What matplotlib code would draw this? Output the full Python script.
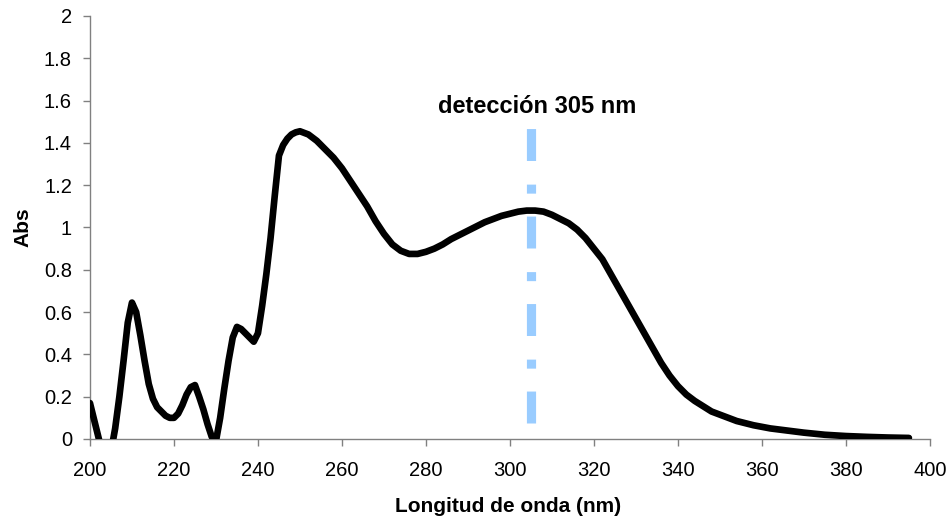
import matplotlib
matplotlib.use("Agg")
import matplotlib.pyplot as plt

plt.rcParams['font.family'] = ['Liberation Sans', 'DejaVu Sans']
plt.rcParams['lines.scale_dashes'] = False

# Absorption spectrum
wavelength = [200, 201, 202, 203, 204, 205, 206, 207, 208, 209, 210, 211, 212, 213,
              214, 215, 216, 217, 218, 219, 220, 221, 222, 223, 224, 225, 226, 227,
              228, 229, 230, 231, 232, 233, 234, 235, 236, 237, 238, 239, 240, 241,
              242, 243, 244, 245, 246, 247, 248, 249, 250, 252, 254, 256, 258, 260,
              262, 264, 266, 268, 270, 272, 274, 276, 278, 280, 282, 284, 286, 288,
              290, 292, 294, 296, 298, 300, 302, 304, 306, 308, 310, 312, 314, 316,
              318, 320, 322, 324, 326, 328, 330, 332, 334, 336, 338, 340, 342, 344,
              346, 348, 350, 354, 358, 362, 366, 370, 375, 380, 385, 390, 395]
absorbance = [0.17, 0.09, 0.01, -0.07, -0.10, -0.06, 0.05, 0.20, 0.37, 0.55, 0.645, 0.60,
              0.49, 0.37, 0.26, 0.19, 0.15, 0.13, 0.11, 0.10, 0.10, 0.12, 0.16, 0.21,
              0.245, 0.255, 0.20, 0.14, 0.07, 0.01, -0.01, 0.10, 0.24, 0.37, 0.48, 0.53,
              0.52, 0.50, 0.48, 0.46, 0.50, 0.63, 0.78, 0.95, 1.15, 1.34, 1.39, 1.42,
              1.44, 1.45, 1.455, 1.44, 1.41, 1.37, 1.33, 1.28, 1.22, 1.16, 1.10, 1.03,
              0.97, 0.92, 0.89, 0.875, 0.875, 0.885, 0.90, 0.92, 0.945, 0.965, 0.985,
              1.005, 1.025, 1.04, 1.055, 1.065, 1.075, 1.08, 1.08, 1.075, 1.06, 1.04,
              1.02, 0.99, 0.95, 0.90, 0.85, 0.78, 0.71, 0.64, 0.57, 0.50, 0.43, 0.36,
              0.30, 0.25, 0.21, 0.18, 0.155, 0.13, 0.115, 0.085, 0.065, 0.05, 0.04,
              0.03, 0.02, 0.014, 0.01, 0.007, 0.005]

# Detection wavelength marker
detection_nm = 305
marker_span = (0.075, 1.475)
marker_label = "detección 305 nm"

x_ticks = [200, 220, 240, 260, 280, 300, 320, 340, 360, 380, 400]
y_ticks = [0, 0.2, 0.4, 0.6, 0.8, 1, 1.2, 1.4, 1.6, 1.8, 2]
y_ticklabels = ["0", "0.2", "0.4", "0.6", "0.8", "1", "1.2", "1.4", "1.6", "1.8", "2"]

fig = plt.figure(figsize=(9.46, 5.21), dpi=100)
ax = fig.add_axes([0.0951, 0.1574, 0.8879, 0.8119])

ax.plot(wavelength, absorbance, color='black', lw=4.8, solid_joinstyle='round',
        solid_capstyle='round', zorder=3)

# long dash / short dash pattern, lengths in points
ax.plot([detection_nm, detection_nm], marker_span, color='#99CCFF', lw=6.6,
        linestyle=(0, (23.0, 16.5, 6.5, 17.0)), dash_capstyle='butt', zorder=2)

ax.text(306.4, 1.54, marker_label, ha='center', va='baseline',
        fontsize=17, fontweight='bold')

ax.set_xlim(200, 400)
ax.set_ylim(0, 2)
ax.set_xticks(x_ticks)
ax.set_yticks(y_ticks)
ax.set_yticklabels(y_ticklabels)
ax.tick_params(axis='both', labelsize=14.5, length=5, width=1, color='#808080',
               direction='out')
ax.tick_params(axis='x', pad=11)
ax.tick_params(axis='y', pad=8)

for side in ('top', 'right'):
    ax.spines[side].set_visible(False)
for side in ('left', 'bottom'):
    ax.spines[side].set_color('#808080')
    ax.spines[side].set_linewidth(1)

ax.set_xlabel("Longitud de onda (nm)", fontsize=15, fontweight='bold')
ax.set_ylabel("Abs", fontsize=15, fontweight='bold')
ax.xaxis.set_label_coords(0.498, -0.137)
ax.yaxis.set_label_coords(-0.069, 0.5)

fig.savefig("out.png", dpi=100)
